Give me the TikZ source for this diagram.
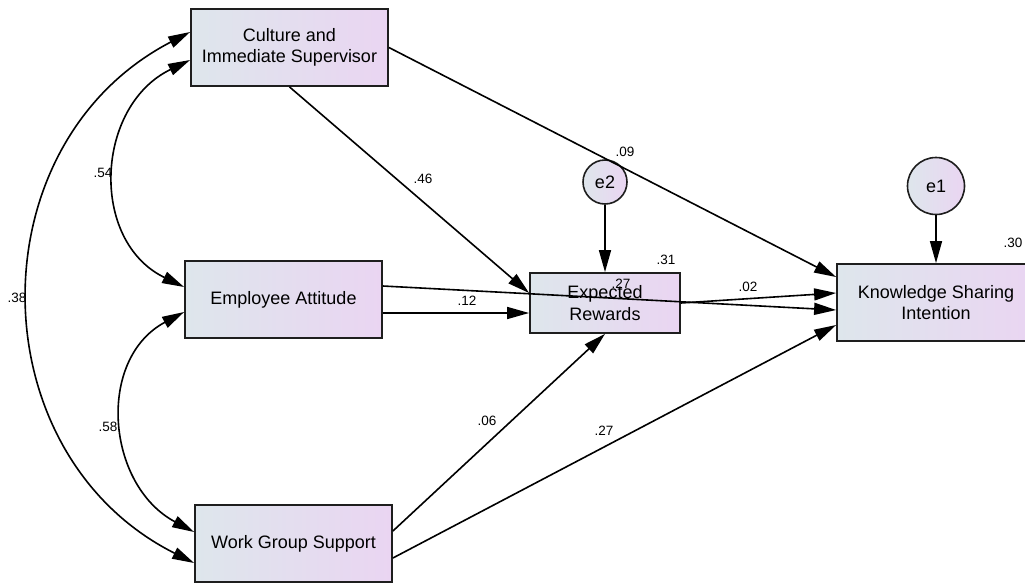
\documentclass[tikz,border=0pt]{standalone}
\usepackage{fontspec}
\setmainfont{Liberation Sans}
\usetikzlibrary{arrows.meta}
\definecolor{boxL}{RGB}{222,230,236}
\definecolor{boxR}{RGB}{234,213,242}
\definecolor{edge}{RGB}{30,30,30}

\begin{document}
\begin{tikzpicture}[x=1pt,y=1pt,
  var/.style={draw=edge, line width=1.8pt, left color=boxL, right color=boxR,
    minimum width=197pt, minimum height=77pt, inner sep=0pt, align=center,
    font=\fontsize{18}{21.5}\selectfont},
  errvar/.style={circle, draw=edge, line width=1.6pt, left color=boxL, right color=boxR,
    inner sep=0pt, font=\fontsize{18}{21.5}\selectfont},
  arr/.style={line width=1.6pt, -{Triangle[length=22pt,width=12pt]}},
  cov/.style={line width=1.6pt, {Triangle[length=22pt,width=12pt]}-{Triangle[length=22pt,width=12pt]}},
  coef/.style={inner sep=0pt, font=\fontsize{13.5}{16}\selectfont}]

\useasboundingbox (0,0) rectangle (1025,-582);
\clip (0,0) rectangle (1025,-582);

% observed variables
\node[var] (cis) at (289.5,-47.5) {Culture and\\Immediate Supervisor};
\node[var] (ea)  at (283.5,-299.5) {Employee Attitude};
\node[var] (wgs) at (293.5,-543.5) {Work Group Support};
\node[var, minimum width=150pt, minimum height=60pt] (er) at (605,-303) {Expected\\Rewards};
\node[var, minimum width=198pt] (ksi) at (936,-302.5) {Knowledge Sharing\\Intention};

% error terms
\node[errvar, minimum size=44pt] (e2) at (605,-182) {e2};
\node[errvar, minimum size=57pt] (e1) at (936,-186) {e1};

% regression paths
\draw[arr] (cis.east) -- ([yshift=25.5]ksi.west);
\draw[arr] (cis.south) -- ([yshift=10]er.west);
\draw[arr] ([yshift=-13.5]ea.east) -- ([yshift=-10]er.west);
\draw[arr] ([yshift=13.5]ea.east) -- ([yshift=-7.5]ksi.west);
\draw[arr] (er.east) -- ([yshift=9.5]ksi.west);
\draw[arr] ([yshift=12.5]wgs.east) -- (er.south);
\draw[arr] ([yshift=-14.5]wgs.east) -- ([yshift=-22.5]ksi.west);
\draw[arr] (e2.south) -- (er.north);
\draw[arr] (e1.south) -- (ksi.north);

% covariances
\draw[cov] ([yshift=15.5]cis.west) .. controls +(-215.6,-112) and +(-217,109) .. ([yshift=-19.5]wgs.west);
\draw[cov] ([yshift=-12.5]cis.west) .. controls +(-95,-46) and +(-95,46) .. ([yshift=12.5]ea.west);
\draw[cov] ([yshift=-12.5]ea.west) .. controls +(-88,-47) and +(-88,47) .. ([yshift=11.5]wgs.west);

% estimates
\node[coef] (c09) at (625,-152) {.09};
\node[coef] (c31) at (666,-260) {.31};
\node[coef] (c30) at (1013,-243) {.30};
\node[coef] (c27a) at (621,-284) {.27};
\node[coef] (c46) at (423,-179) {.46};
\node[coef] (c12) at (467,-301) {.12};
\node[coef] (c02) at (748,-287) {.02};
\node[coef] (c06) at (487,-421) {.06};
\node[coef] (c27b) at (604,-431) {.27};
\node[coef] (c54) at (103,-173) {.54};
\node[coef] (c58) at (108,-427) {.58};
\node[coef] (c38) at (17,-298) {.38};
\end{tikzpicture}
\end{document}
